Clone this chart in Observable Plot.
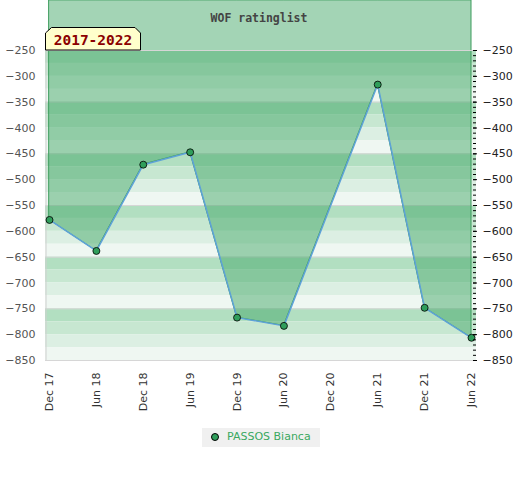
<!DOCTYPE html>
<html>
<head>
<meta charset="utf-8">
<script src="https://cdn.jsdelivr.net/npm/d3@7"></script>
<script src="https://cdn.jsdelivr.net/npm/@observablehq/plot@0.6"></script>
<style>
  body { margin: 0; background: #fff; font-family: "DejaVu Sans", sans-serif; }
  #wrap { width: 520px; }
  #legend { position: relative; height: 60px; }
  #legbox { position: absolute; left: 202px; top: 8px; width: 118px; height: 19px; background: #f0f0f0;
            font: 11px "DejaVu Sans", sans-serif; color: #3aa860; }
  #legbox .dot { position: absolute; left: 9px; top: 5px; width: 6px; height: 6px; border-radius: 50%;
                 background: #2f9e5b; border: 1px solid #000; }
  #legbox .lab { position: absolute; left: 25px; top: 2px; white-space: nowrap; }
</style>
</head>
<body>
<div id="wrap">
  <div id="chart"></div>
  <div id="legend"><div id="legbox"><span class="dot"></span><span class="lab">PASSOS Bianca</span></div></div>
</div>
<script>
const title = "WOF ratinglist";
const periodTag = "2017-2022";
const seriesName = "PASSOS Bianca";
const periods = ["Dec 17","Jun 18","Dec 18","Jun 19","Dec 19","Jun 20","Dec 20","Jun 21","Dec 21","Jun 22"];
const ratings = [-578, -638, -471, -447, -767, -783, null, -316, -748, -806];
const yTicks = [-250, -300, -350, -400, -450, -500, -550, -600, -650, -700, -750, -800, -850];
const yMin = -850, yMax = -250;
const areaTop = -153; // area is filled from the line up past the top of the plot

const points = periods.map((p, i) => ({period: p, rating: ratings[i]})).filter(d => d.rating != null);

// decorative background stripes (25-unit bands, cycle of 4) and 100-unit grid
const bands = d3.range(yMax, yMin, -25);
const stripeColors = ["#b2dfc1", "#c7e7d1", "#dcefe3", "#eff7f2"];
const gridVals = d3.range(yMax, yMin - 1, -100);
const minorTicks = d3.range(yMax, yMin - 1, -10);

const plot = Plot.plot({
  width: 520,
  height: 420,
  marginTop: 50,
  marginBottom: 60,
  marginLeft: 45,
  marginRight: 48,
  style: {fontFamily: "DejaVu Sans, sans-serif", fontSize: "11px", background: "transparent"},
  x: {type: "point", domain: periods, range: [49, 471], padding: 0, round: false},
  y: {domain: [yMin, yMax]},
  marks: [
    Plot.rect(bands, {y1: d => d, y2: d => d - 25, fill: d => stripeColors[((yMax - d) / 25) % 4], insetRight: -4}),
    Plot.ruleY(gridVals, {stroke: "#d6d6d6", insetRight: -4}),
    Plot.ruleX([periods[0]], {y1: yMin, y2: yMax, dx: -3.5, stroke: "#d0d0d0"}),
    Plot.areaY(points, {x: "period", y1: "rating", y2: areaTop, fill: "#3fa565", fillOpacity: 0.48, stroke: "#3c9c5c", strokeWidth: 1}),
    Plot.ruleY([yMax], {stroke: "#d6d6d6", insetRight: -4}),
    Plot.line(points, {x: "period", y: "rating", stroke: "#5ea2d8", strokeWidth: 1.5}),
    Plot.dot(points, {x: "period", y: "rating", r: 3.5, fill: "#2f9e5b", stroke: "#000", strokeWidth: 0.8}),
    Plot.axisY({anchor: "left", ticks: yTicks, tickSize: 0, tickPadding: 10, fill: "#555", label: null}),
    Plot.axisY({anchor: "right", ticks: minorTicks, tickSize: 3, tickFormat: () => "", stroke: "#000", label: null}),
    Plot.axisY({anchor: "right", ticks: yTicks, tickSize: 4, tickPadding: 6, fill: "#222", stroke: "#000", label: null}),
    Plot.axisX({tickRotate: -90, tickSize: 0, tickPadding: 12, fill: "#333", label: null}),
    Plot.text([title], {frameAnchor: "top", dy: -37, fontFamily: "DejaVu Sans Mono, monospace", fontWeight: "bold", fontSize: 11.5, fill: "#444"})
  ]
});

// period tag box with chamfered top corners
const svg = d3.select(plot);
const g = svg.append("g");
g.append("path")
  .attr("d", "M45.5,50 L45.5,33 L51.5,27.5 L135,27.5 L140.5,33 L140.5,50 Z")
  .attr("fill", "#ffffcc").attr("stroke", "#000").attr("stroke-width", 1);
g.append("text")
  .attr("x", 93).attr("y", 45)
  .attr("text-anchor", "middle")
  .attr("font-family", "DejaVu Sans Mono, monospace")
  .attr("font-weight", "bold")
  .attr("font-size", 14.5)
  .attr("fill", "#8b0000")
  .text(periodTag);

document.getElementById("chart").appendChild(plot);
document.querySelector("#legbox .lab").textContent = seriesName;
</script>
</body>
</html>
